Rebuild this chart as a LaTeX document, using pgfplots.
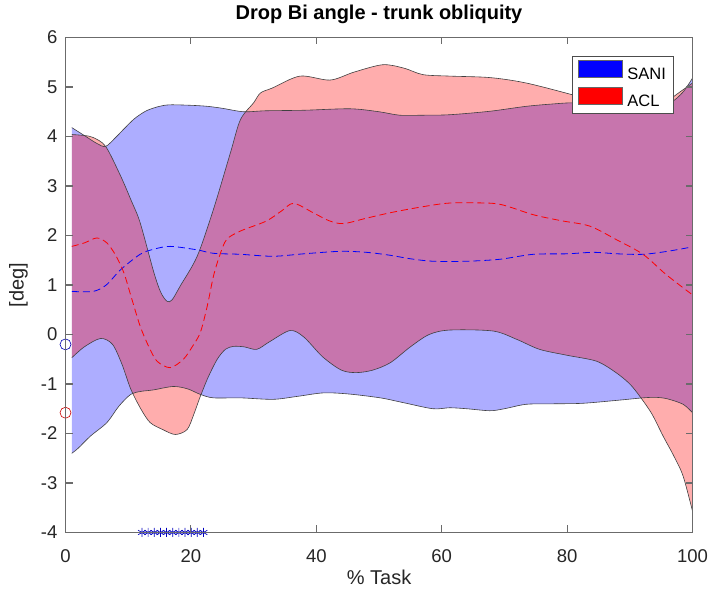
\documentclass[border=0pt]{standalone}
\usepackage{fontspec}
\setmainfont{Liberation Sans}
\usepackage{pgfplots}
\pgfplotsset{compat=1.18}
\usepgfplotslibrary{fillbetween}
\definecolor{axgray}{gray}{0.42}
\definecolor{txtgray}{gray}{0.15}
\begin{document}
\begin{tikzpicture}
\begin{axis}[
  axis on top,
  scale only axis,
  width=627pt, height=495pt,
  xmin=0, xmax=100, ymin=-4, ymax=6,
  xtick={0,20,40,60,80,100},
  ytick={-4,-3,-2,-1,0,1,2,3,4,5,6},
  tick align=inside,
  xtick pos=both, ytick pos=both,
  major tick length=7pt,
  axis line style={draw=axgray, line width=1.1pt},
  major tick style={draw=axgray, line width=1.1pt},
  clip=false,
  /pgf/number format/assume math mode=true,
  ticklabel style={font=\fontsize{18.5}{22}\selectfont, text=txtgray, inner sep=0pt},
  xticklabel style={anchor=base, yshift=-30pt},
  yticklabel style={anchor=east, xshift=-8pt},
  xticklabel pos=lower, yticklabel pos=left,
  title={\textbf{Drop Bi angle - trunk obliquity}},
  title style={font=\fontsize{20}{24}\selectfont, text=black, inner sep=0pt, at={(axis description cs:0.5,1)}, anchor=base, yshift=12pt},
  xlabel={\% Task},
  xlabel style={font=\fontsize{20}{24}\selectfont, text=txtgray, inner sep=0pt, at={(axis description cs:0.5,0)}, anchor=base, yshift=-52pt},
  ylabel={[deg]},
  ylabel style={font=\fontsize{20}{24}\selectfont, text=txtgray, inner sep=0pt, at={(axis description cs:-0.075,0.5)}, anchor=center},
  legend style={at={(axis description cs:0.970,0.962)}, anchor=north east, draw=black!70, line width=0.6pt,
    font=\fontsize{16.5}{19}\selectfont, inner xsep=5.5pt, inner ysep=3pt, row sep=4pt, column sep=3pt,
    nodes={inner sep=2pt}, cells={anchor=west}},
]
\addlegendimage{legend image code/.code={\draw[fill=blue, draw=black!60, line width=0.4pt] (0pt,-2.5pt) rectangle (44pt,14.5pt);}}
\addlegendentry{SANI}
\addlegendimage{legend image code/.code={\draw[fill=red, draw=black!60, line width=0.4pt] (0pt,-2.5pt) rectangle (44pt,14.5pt);}}
\addlegendentry{ACL}

% SANI upper
\addplot[name path=su, draw=black!75, line width=0.6pt, smooth, tension=0.5] coordinates {
(1,4.18) (3,4.02) (5,3.86) (6.4,3.80) (8,3.98) (9.3,4.15) (11,4.36) (12.9,4.52) (15,4.61) (16.7,4.64)
(20,4.63) (22.6,4.61) (25,4.57) (28.4,4.50) (32,4.52) (38,4.53) (45.4,4.56) (50,4.50) (53.3,4.43)
(57,4.43) (61.3,4.44) (67.7,4.51) (73.5,4.61) (78,4.66) (81,4.68) (86,4.65) (90,4.60) (92,4.57)
(94,4.58) (96.5,4.68) (98.5,4.9) (100,5.18)};
% SANI lower
\addplot[name path=sl, draw=black!75, line width=0.6pt, smooth, tension=0.5] coordinates {
(1,-2.40) (2,-2.3) (4,-2.05) (6.6,-1.78) (8.5,-1.45) (10.4,-1.21) (12,-1.15) (14,-1.12) (17.2,-1.05)
(19.5,-1.1) (21.5,-1.21) (23.6,-1.28) (27.9,-1.28) (33.1,-1.31) (37,-1.25) (41.1,-1.18) (45,-1.2)
(50.2,-1.28) (54,-1.38) (58.6,-1.50) (61.3,-1.48) (64,-1.5) (67.7,-1.54) (70,-1.5) (73.5,-1.41)
(78,-1.4) (82.5,-1.39) (88,-1.33) (92.1,-1.28) (94.2,-1.27) (96,-1.3) (98.5,-1.41) (100,-1.58)};
\addplot[fill=blue, fill opacity=0.32, draw=none] fill between[of=su and sl];
% ACL upper
\addplot[name path=au, draw=black!75, line width=0.6pt, smooth, tension=0.5] coordinates {
(1,4.04) (3,4.02) (4.4,3.98) (6.4,3.80) (8.8,3.20) (10.5,2.7) (11.9,2.26) (14.1,1.25) (15.2,0.85)
(16.2,0.67) (17,0.7) (18.3,0.98) (21,1.58) (23.6,2.53) (26.3,3.67) (27.9,4.34) (30,4.68) (31.1,4.88)
(33,4.98) (37.4,5.22) (42.2,5.14) (46,5.3) (50.6,5.45) (54,5.38) (57,5.25) (61.3,5.22) (67.7,5.19)
(73.5,5.08) (81.5,4.82) (86,4.65) (89,4.58) (92,4.55) (94,4.6) (96,4.72) (98,4.9) (100,5.08)};
% ACL lower
\addplot[name path=al, draw=black!75, line width=0.6pt, smooth, tension=0.5] coordinates {
(1,-0.47) (3,-0.25) (5.6,-0.08) (7.5,-0.2) (9,-0.6) (10.4,-1.1) (12,-1.5) (13.5,-1.78) (15.5,-1.92)
(17.5,-2.02) (19.4,-1.92) (20.5,-1.6) (21.5,-1.25) (22.8,-0.85) (24.2,-0.5) (25.5,-0.3) (26.8,-0.24)
(28.5,-0.25) (30.5,-0.30) (32.5,-0.15) (35.8,0.08) (38,-0.05) (41,-0.45) (44,-0.72) (46.4,-0.77)
(49,-0.72) (51.8,-0.57) (55,-0.25) (58,0.0) (61.3,0.09) (68.2,0.07) (72,-0.1) (75.6,-0.30) (80,-0.42)
(84.7,-0.54) (87.8,-0.77) (90,-1.0) (91.6,-1.25) (93.5,-1.6) (95.3,-2.05) (97,-2.45) (98.5,-2.86) (100,-3.57)};
\addplot[fill=red, fill opacity=0.32, draw=none] fill between[of=au and al];

% means
\addplot[blue, line width=0.8pt, dash pattern=on 7pt off 4pt, smooth, tension=0.5] coordinates {
(1,0.87) (4.4,0.87) (6.5,1.0) (8.8,1.31) (11.9,1.62) (14,1.72) (16.7,1.78) (21,1.71) (23.6,1.64)
(27.9,1.62) (33.1,1.58) (38,1.63) (43.8,1.68) (48,1.66) (51.8,1.60) (55,1.53) (58.6,1.48) (64,1.48)
(69.3,1.52) (74.6,1.62) (80,1.63) (84.2,1.66) (88,1.63) (92.1,1.62) (96,1.68) (100,1.77)};
\addplot[red, line width=0.8pt, dash pattern=on 7pt off 4pt, smooth, tension=0.5] coordinates {
(1,1.78) (3,1.85) (5,1.95) (6.6,1.85) (8,1.6) (9.3,1.25) (10.5,0.75) (11.9,0.17) (13.3,-0.25)
(14.6,-0.54) (16.7,-0.67) (18.8,-0.50) (20.2,-0.25) (21.5,0.04) (22.6,0.57) (23.6,1.18) (24.6,1.6)
(25.7,1.92) (27.9,2.09) (32,2.29) (34.5,2.5) (36.4,2.65) (39.5,2.46) (42,2.3) (44.3,2.24) (48,2.35)
(51.8,2.46) (56,2.56) (60.7,2.65) (65,2.66) (69.3,2.63) (74.6,2.42) (79,2.3) (83.6,2.19) (87.8,1.92)
(92.1,1.62) (95.8,1.21) (100,0.80)};

% start markers
\addplot[only marks, mark=o, draw=blue!70!black, mark size=5.5pt, line width=0.6pt] coordinates {(0,-0.2)};
\addplot[only marks, mark=o, draw=red!80!black, mark size=5.5pt, line width=0.6pt] coordinates {(0,-1.58)};

% significance asterisks
\addplot[only marks, mark=asterisk, color=blue!75!black, mark size=4.5pt, line width=0.7pt] coordinates {
(12.2,-4) (13.18,-4) (14.16,-4) (15.14,-4) (16.12,-4) (17.1,-4) (18.08,-4) (19.06,-4) (20.04,-4) (21.02,-4) (22.0,-4)};

% page frame (invisible) fixing the outer margins
\path (rel axis cs:-0.10447,-0.12020) rectangle (rel axis cs:1.02472,1.07576);
\end{axis}
\end{tikzpicture}
\end{document}
